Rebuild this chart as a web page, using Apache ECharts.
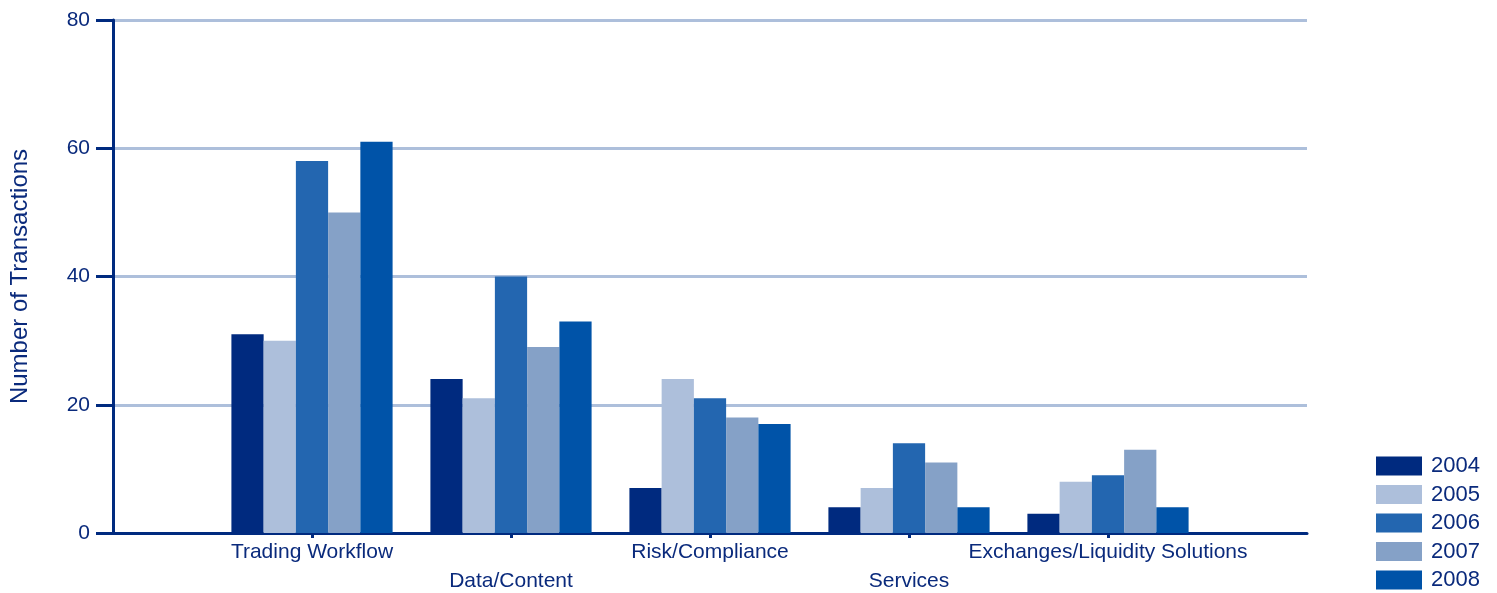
<!DOCTYPE html>
<html>
<head>
<meta charset="utf-8">
<script src="https://cdn.jsdelivr.net/npm/echarts@6/dist/echarts.min.js"></script>
<style>
  html, body { margin: 0; padding: 0; background: #fff; }
  #chart { width: 1497px; height: 593px; }
</style>
</head>
<body>
<div id="chart"></div>
<script>
// ── Deal counts by segment and year ──
const categories = ['Trading Workflow', 'Data/Content', 'Risk/Compliance', 'Services', 'Exchanges/Liquidity Solutions'];
const years = ['2004', '2005', '2006', '2007', '2008'];
const v2004 = [31, 24, 7, 4, 3];
const v2005 = [30, 21, 24, 7, 8];
const v2006 = [58, 40, 21, 14, 9];
const v2007 = [50, 29, 18, 11, 13];
const v2008 = [61, 33, 17, 4, 4];
const yTicks = [0, 20, 40, 60, 80];

const colors = ['#002a7f', '#adbfdb', '#2366b0', '#85a1c7', '#0053a8'];
const ink = '#0a2a7c';
const font = 'Liberation Sans, Arial, sans-serif';

// empty slot on each side so the groups sit on the ticks
const axisCats = [''].concat(categories, ['']);
const pad = arr => [null].concat(arr, [null]);

const chart = echarts.init(document.getElementById('chart'));
chart.setOption({
  animation: false,
  backgroundColor: '#fff',
  textStyle: { fontFamily: font },
  grid: { left: 113, right: 190, top: 20, bottom: 60, outerBoundsMode: 'none', containLabel: false },
  color: colors,
  legend: {
    orient: 'vertical', left: 1376, top: 455, padding: 0,
    itemWidth: 46, itemHeight: 19, itemGap: 6.5,
    icon: 'rect',
    textStyle: { color: ink, fontSize: 22, fontFamily: font, padding: [0, 0, 0, 4] },
    data: years
  },
  xAxis: {
    type: 'category', data: axisCats, boundaryGap: false,
    axisLine: { lineStyle: { color: '#002a7f', width: 3 } },
    axisTick: { show: true, length: 5, lineStyle: { color: '#002a7f', width: 3 }, interval: (i) => i > 0 && i < axisCats.length - 1 },
    axisLabel: {
      interval: 0, margin: 4.5, color: ink, fontSize: 21, lineHeight: 29, fontFamily: font,
      formatter: (v, i) => (i % 2 === 0 ? '\n' + v : v)
    },
    splitLine: { show: false }
  },
  yAxis: {
    type: 'value', min: 0, max: 80, interval: 20,
    name: 'Number of Transactions', nameLocation: 'middle', nameGap: 81,
    nameTextStyle: { color: ink, fontSize: 24, fontFamily: font },
    axisLine: { show: true, lineStyle: { color: '#002a7f', width: 3 } },
    axisTick: { show: true, length: 17, lineStyle: { color: '#002a7f', width: 3 } },
    axisLabel: { margin: 23, color: ink, fontSize: 21, fontFamily: font, customValues: yTicks },
    splitLine: { lineStyle: { color: '#adbfdb', width: 3 } }
  },
  series: [v2004, v2005, v2006, v2007, v2008].map((d, k) => ({
    name: years[k], type: 'bar', data: pad(d),
    barGap: '0%', barCategoryGap: '19%'
  }))
});
</script>
</body>
</html>
